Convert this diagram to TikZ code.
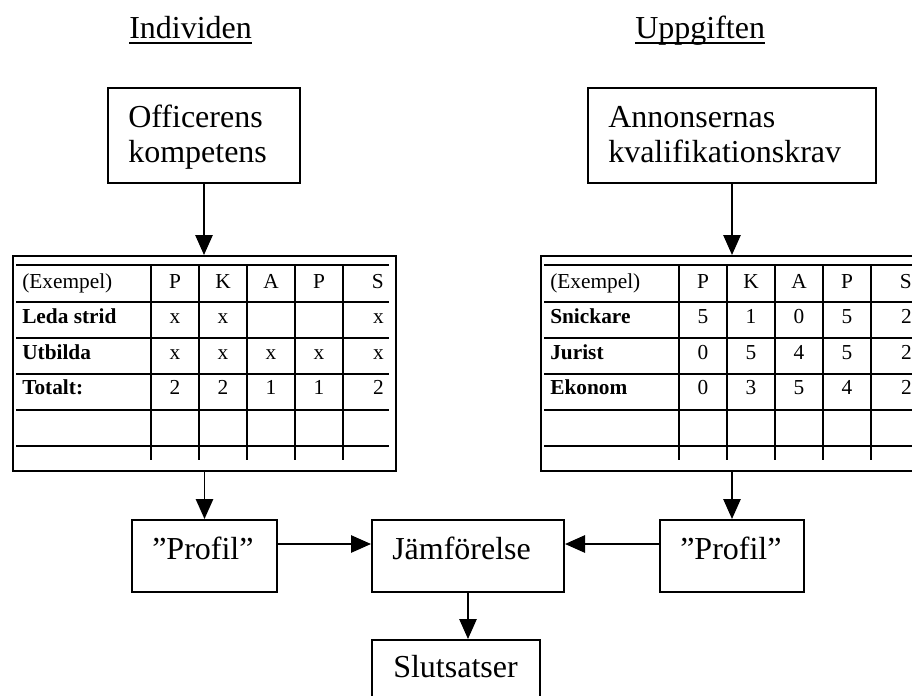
\documentclass[tikz,border=0pt]{standalone}
\usepackage{fontspec}
\setmainfont{Liberation Serif}
\usetikzlibrary{arrows.meta}
\newcommand{\bigsz}{\fontsize{24pt}{28pt}\selectfont}
\newcommand{\tabsz}{\fontsize{16pt}{19pt}\selectfont}
\tikzset{
  box/.style={draw, line width=1.5pt, rectangle, inner sep=0pt, anchor=north west},
  txt/.style={inner sep=0pt, font=\bigsz, anchor=base west},
  cellL/.style={inner sep=0pt, font=\tabsz, anchor=base west},
  cellC/.style={inner sep=0pt, font=\tabsz, anchor=base},
  cellR/.style={inner sep=0pt, font=\tabsz, anchor=base east},
  arr/.style={line width=1.3pt, -{Triangle[width=13pt,length=15pt]}},
  grid/.style={line width=2.1pt},
  outer/.style={draw, line width=1.3pt, rectangle, inner sep=0pt, anchor=north west,
    minimum width=287.25pt, minimum height=161.25pt}
}
\begin{document}
\begin{tikzpicture}[x=0.75pt,y=-0.75pt]
\path[use as bounding box] (0,0) rectangle (912,695);
\clip (0,0) rectangle (912,695);

% titles
\node[txt] (ind) at (129,39) {Individen};
\draw[line width=1.8pt] ([yshift=-3pt]ind.base west) -- ([yshift=-3pt]ind.base east);
\node[txt] (upp) at (635,39) {Uppgiften};
\draw[line width=1.8pt] ([yshift=-3pt]upp.base west) -- ([yshift=-3pt]upp.base east);

% top boxes
\node[box, minimum width=144pt, minimum height=71.25pt] (off) at (107,87) {};
\node[txt] (off1) at (128,128) {Officerens};
\node[txt] (off2) at (128,163) {kompetens};
\node[box, minimum width=216pt, minimum height=71.25pt] (ann) at (587,87) {};
\node[txt] (ann1) at (608,128) {Annonsernas};
\node[txt] (ann2) at (608,163) {kvalifikationskrav};

% tables: outer frames
\node[outer] (tabL) at (12,255) {};
\node[outer] (tabR) at (540,255) {};

% grids
\foreach \dx in {0,528} {
  \foreach \yy in {265,302,338,374,410,446}
    \draw[grid] (16+\dx,\yy) -- (389+\dx,\yy);
  \foreach \xx in {151,199,247,295,343}
    \draw[grid] (\xx+\dx,265) -- (\xx+\dx,460);
}

% left table cells
\node[cellL] (l00) at (22,288) {(Exempel)};
\node[cellC] (l01) at (175,288) {P};
\node[cellC] (l02) at (223,288) {K};
\node[cellC] (l03) at (271,288) {A};
\node[cellC] (l04) at (319,288) {P};
\node[cellR] (l05) at (384,288) {S};
\node[cellL] (l10) at (22,323) {\textbf{Leda strid}};
\node[cellC] (l11) at (175,323) {x};
\node[cellC] (l12) at (223,323) {x};
\node[cellR] (l15) at (384,323) {x};
\node[cellL] (l20) at (22,359) {\textbf{Utbilda}};
\node[cellC] (l21) at (175,359) {x};
\node[cellC] (l22) at (223,359) {x};
\node[cellC] (l23) at (271,359) {x};
\node[cellC] (l24) at (319,359) {x};
\node[cellR] (l25) at (384,359) {x};
\node[cellL] (l30) at (22,394) {\textbf{Totalt:}};
\node[cellC] (l31) at (175,394) {2};
\node[cellC] (l32) at (223,394) {2};
\node[cellC] (l33) at (271,394) {1};
\node[cellC] (l34) at (319,394) {1};
\node[cellR] (l35) at (384,394) {2};

% right table cells
\node[cellL] (r00) at (550,288) {(Exempel)};
\node[cellC] (r01) at (703,288) {P};
\node[cellC] (r02) at (751,288) {K};
\node[cellC] (r03) at (799,288) {A};
\node[cellC] (r04) at (847,288) {P};
\node[cellR] (r05) at (912,288) {S};
\node[cellL] (r10) at (550,323) {\textbf{Snickare}};
\node[cellC] (r11) at (703,323) {5};
\node[cellC] (r12) at (751,323) {1};
\node[cellC] (r13) at (799,323) {0};
\node[cellC] (r14) at (847,323) {5};
\node[cellR] (r15) at (912,323) {2};
\node[cellL] (r20) at (550,359) {\textbf{Jurist}};
\node[cellC] (r21) at (703,359) {0};
\node[cellC] (r22) at (751,359) {5};
\node[cellC] (r23) at (799,359) {4};
\node[cellC] (r24) at (847,359) {5};
\node[cellR] (r25) at (912,359) {2};
\node[cellL] (r30) at (550,394) {\textbf{Ekonom}};
\node[cellC] (r31) at (703,394) {0};
\node[cellC] (r32) at (751,394) {3};
\node[cellC] (r33) at (799,394) {5};
\node[cellC] (r34) at (847,394) {4};
\node[cellR] (r35) at (912,394) {2};

% bottom boxes
\node[box, minimum width=108.75pt, minimum height=54pt] (profL) at (131,519) {};
\node[txt] (profLt) at (152,559) {”Profil”};
\node[box, minimum width=144pt, minimum height=54pt] (jam) at (371,519) {};
\node[txt] (jamt) at (392,559) {Jämförelse};
\node[box, minimum width=108pt, minimum height=54pt] (profR) at (659,519) {};
\node[txt] (profRt) at (680,559) {”Profil”};
\node[box, minimum width=126pt, minimum height=54pt] (slut) at (371,639) {};
\node[txt] (slutt) at (393,677) {Slutsatser};

% connectors
\draw[arr] (off.south) -- (off.south |- tabL.north);
\draw[arr] (ann.south) -- (ann.south |- tabR.north);
\draw[arr] (profL.north |- tabL.south) -- (profL.north);
\draw[arr] (profR.north |- tabR.south) -- (profR.north);
\draw[arr] ([yshift=9pt]profL.east) -- ([yshift=9pt]jam.west);
\draw[arr] ([yshift=9pt]profR.west) -- ([yshift=9pt]jam.east);
\draw[arr] (jam.south) -- (jam.south |- slut.north);
\end{tikzpicture}
\end{document}
